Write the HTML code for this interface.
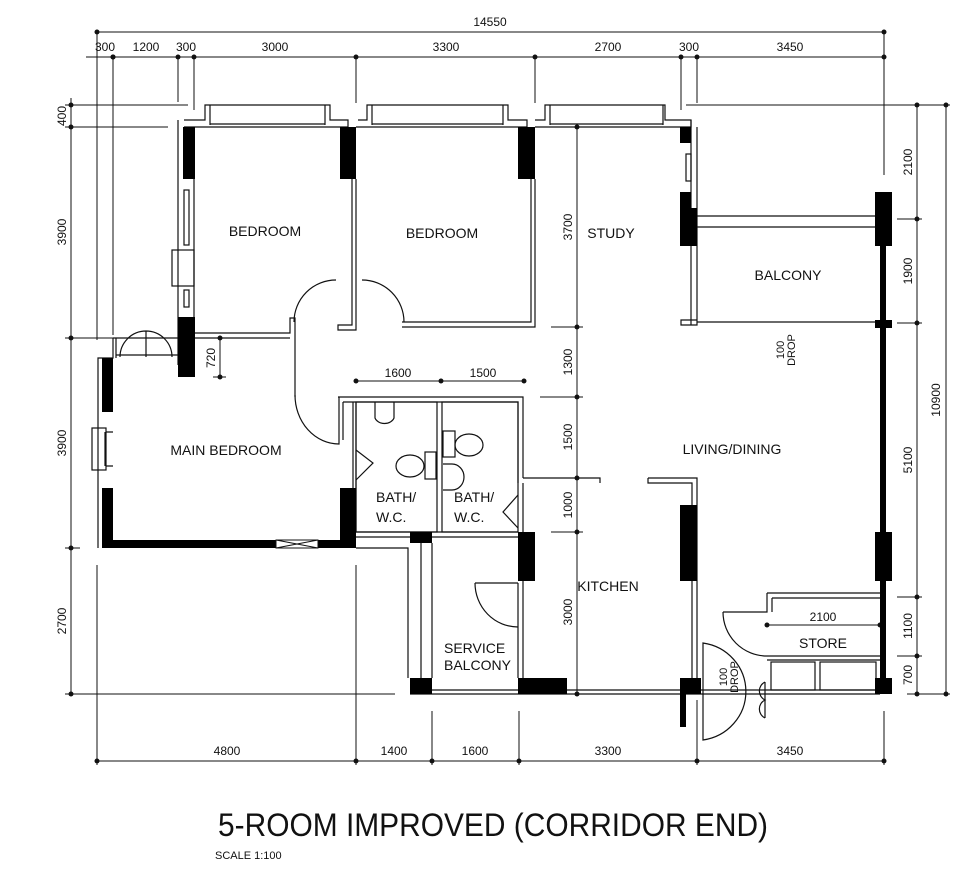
<!DOCTYPE html>
<html><head><meta charset="utf-8"><style>
html,body{margin:0;padding:0;background:#fff}
svg{display:block}
text{font-family:"Liberation Sans",sans-serif;fill:#111}
</style></head><body>
<svg width="966" height="893" viewBox="0 0 966 893" xmlns="http://www.w3.org/2000/svg">
<g stroke="#111" stroke-width="1" fill="none">
<!-- top dimensions -->
<line x1="97" y1="32" x2="884" y2="32"/>
<line x1="86" y1="57" x2="884" y2="57"/>
<line x1="97" y1="32" x2="97" y2="340"/>
<line x1="113" y1="57" x2="113" y2="335"/>
<line x1="178" y1="57" x2="178" y2="102"/>
<line x1="194" y1="57" x2="194" y2="110"/>
<line x1="356" y1="57" x2="356" y2="103"/>
<line x1="535" y1="57" x2="535" y2="103"/>
<line x1="681" y1="57" x2="681" y2="110"/>
<line x1="697" y1="57" x2="697" y2="103"/>
<line x1="884" y1="32" x2="884" y2="175"/>
<!-- left dims -->
<line x1="71" y1="98" x2="71" y2="694"/>
<line x1="65" y1="105" x2="188" y2="105"/>
<line x1="65" y1="127" x2="168" y2="127"/>
<line x1="65" y1="338" x2="115" y2="338"/>
<line x1="65" y1="548" x2="80" y2="548"/>
<line x1="65" y1="694" x2="395" y2="694"/>
<!-- right dims -->
<line x1="686" y1="105" x2="950" y2="105"/>
<line x1="917" y1="105" x2="917" y2="694"/>
<line x1="946" y1="105" x2="946" y2="694"/>
<line x1="897" y1="219" x2="922" y2="219"/>
<line x1="897" y1="323" x2="922" y2="323"/>
<line x1="897" y1="597" x2="922" y2="597"/>
<line x1="897" y1="656" x2="922" y2="656"/>
<line x1="907" y1="694" x2="950" y2="694"/>
<!-- bottom dims -->
<line x1="97" y1="761" x2="884" y2="761"/>
<line x1="97" y1="565" x2="97" y2="765"/>
<line x1="356" y1="565" x2="356" y2="765"/>
<line x1="432" y1="711" x2="432" y2="765"/>
<line x1="519" y1="711" x2="519" y2="765"/>
<line x1="697" y1="700" x2="697" y2="765"/>
<line x1="884" y1="711" x2="884" y2="765"/>
<!-- internal dims -->
<line x1="356" y1="381" x2="524" y2="381"/>
<line x1="220" y1="338" x2="220" y2="377"/><line x1="213" y1="377" x2="226" y2="377"/>
<line x1="577" y1="127" x2="577" y2="694"/>
<line x1="551" y1="327" x2="583" y2="327"/>
<line x1="540" y1="397" x2="583" y2="397"/>
<line x1="540" y1="478" x2="583" y2="478"/>
<line x1="551" y1="532" x2="583" y2="532"/>
<line x1="767" y1="625" x2="880" y2="625"/>
</g>
<g fill="#111">
<circle cx="97" cy="32" r="2.5"/><circle cx="884" cy="32" r="2.5"/>
<circle cx="113" cy="57" r="2.5"/><circle cx="113" cy="57" r="2.5"/><circle cx="178" cy="57" r="2.5"/><circle cx="194" cy="57" r="2.5"/><circle cx="356" cy="57" r="2.5"/><circle cx="535" cy="57" r="2.5"/><circle cx="681" cy="57" r="2.5"/><circle cx="697" cy="57" r="2.5"/><circle cx="884" cy="57" r="2.5"/>
<circle cx="71" cy="105" r="2.5"/><circle cx="71" cy="127" r="2.5"/><circle cx="71" cy="338" r="2.5"/><circle cx="71" cy="548" r="2.5"/><circle cx="71" cy="694" r="2.5"/>
<circle cx="917" cy="105" r="2.5"/><circle cx="946" cy="105" r="2.5"/><circle cx="917" cy="219" r="2.5"/><circle cx="917" cy="323" r="2.5"/><circle cx="917" cy="597" r="2.5"/><circle cx="917" cy="656" r="2.5"/><circle cx="917" cy="694" r="2.5"/><circle cx="946" cy="694" r="2.5"/>
<circle cx="97" cy="761" r="2.5"/><circle cx="356" cy="761" r="2.5"/><circle cx="432" cy="761" r="2.5"/><circle cx="519" cy="761" r="2.5"/><circle cx="697" cy="761" r="2.5"/><circle cx="884" cy="761" r="2.5"/>
<circle cx="356" cy="381" r="2.5"/><circle cx="441" cy="381" r="2.5"/><circle cx="524" cy="381" r="2.5"/>
<circle cx="220" cy="338" r="2.5"/><circle cx="220" cy="377" r="2.5"/>
<circle cx="577" cy="127" r="2.5"/><circle cx="577" cy="327" r="2.5"/><circle cx="577" cy="397" r="2.5"/><circle cx="577" cy="478" r="2.5"/><circle cx="577" cy="532" r="2.5"/><circle cx="577" cy="694" r="2.5"/>
<circle cx="767" cy="625" r="2.5"/><circle cx="880" cy="625" r="2.5"/>
</g>
<!-- walls outline -->
<g stroke="#111" stroke-width="1.2" fill="none">
<!-- top wall with windows -->
<path d="M184,120 H205 V105 H330 V120 H348 V127 H184"/>
<path d="M210,105 V125 M325,105 V125 M210,124 H325"/>
<path d="M358,120 H367 V105 H508 V120 H527 V127 H356"/>
<path d="M372,105 V125 M503,105 V125 M372,124 H503"/>
<path d="M535,120 H545 V105 H665 V120 H691 V127 H535"/>
<path d="M550,105 V125 M663,105 V125 M550,124 H663"/>
<path d="M691,120 V325 M697,127 V325 M681,320 H697 V325 H681 Z"/>
<rect x="686" y="154" width="5" height="27"/>
<!-- balcony rails -->
<path d="M697,216 H875 M697,227 H875 M697,322 H880"/>
<!-- bedroom 1 left wall -->
<path d="M178,120 V365 M194,127 V318"/>
<rect x="184" y="190" width="5" height="55"/><rect x="172" y="250" width="22" height="36"/><rect x="184" y="290" width="5" height="17"/>
<!-- bedroom1/2 partition -->
<path d="M352,179 V325 H338 V330 H356 V179"/>
<path d="M336,280 A42,42 0 0 0 294,322"/>
<path d="M362,280 A42,42 0 0 1 404,322"/>
<path d="M402,322 H531 V179 M402,327 H535 V179"/>
<!-- main bedroom top -->
<path d="M194,333 H290 V318 H295 V397 M194,338 H290"/>
<path d="M295,395 A44,49 0 0 0 339,444 V397"/>
<path d="M113,338 V358 H98 V548 M178,338 H113 M116,355 H178 M116,338 V358"/>
<path d="M120,357 A26,26 0 0 1 146,331 M172,357 A26,26 0 0 0 146,331 M146,331 V357"/>
<rect x="92" y="428" width="14" height="42"/><path d="M106,432 H113 M106,466 H113 M105,432 V466"/>
<!-- bathrooms -->
<path d="M338,397 H523 V478 M343,402 H518 V483"/>
<path d="M343,402 V440 M353,402 V540 M356,402 V532"/>
<rect x="356" y="402" width="81" height="130"/>
<rect x="442" y="402" width="76" height="130"/>
<path d="M356,532 H518 M356,537 H518"/>
<path d="M356,450 L373,463 L356,480 M518,495 L503,512 L518,528"/>
<path d="M375,402 V418 A10,8 0 0 0 394,418 V402"/>
<ellipse cx="410" cy="466" rx="14" ry="11"/><rect x="425" y="452" width="11" height="27"/>
<ellipse cx="469" cy="445" rx="14" ry="11"/><rect x="443" y="431" width="12" height="26"/>
<path d="M443,464 H452 A12,13 0 0 1 452,490 H443"/>
<!-- service balcony -->
<path d="M356,548 H408 V678 M421,543 V678 M432,543 V678"/>
<path d="M475,583 H518 M475,583 A43,44 0 0 0 518,627"/>
<path d="M518,583 V678 M523,483 V678"/>
<!-- kitchen -->
<path d="M523,478 H600 V483 M648,478 V483 H692 V678 M648,478 H697 V678"/>
<path d="M410,690 H880 M410,694 H880"/>
<!-- store -->
<path d="M767,593 H880 M772,598 H880 M767,593 V612 H723 M772,598 V612"/>
<path d="M723,612 A44,44 0 0 0 767,656 H880 M767,660 H880"/>
<rect x="771" y="662" width="44" height="28"/><rect x="820" y="662" width="56" height="28"/>
<path d="M703,643 A50,49 0 0 1 703,740 Z"/>
<path d="M765,682 A10,10 0 0 0 765,700 A10,10 0 0 0 765,718 M765,682 V718"/>
</g>
<!-- black walls -->
<g fill="#000">
<rect x="183" y="127" width="12" height="52"/>
<rect x="340" y="127" width="16" height="52"/>
<rect x="518" y="127" width="17" height="52"/>
<rect x="680" y="127" width="11" height="16"/>
<rect x="680" y="192" width="11" height="54"/><rect x="680" y="208" width="17" height="38"/>
<rect x="875" y="192" width="17" height="54"/>
<rect x="880" y="246" width="6" height="448"/>
<rect x="875" y="320" width="17" height="8"/>
<rect x="875" y="532" width="17" height="49"/>
<rect x="875" y="678" width="17" height="16"/>
<rect x="680" y="505" width="17" height="76"/>
<rect x="680" y="678" width="21" height="16"/><rect x="680" y="694" width="6" height="33"/>
<rect x="518" y="678" width="49" height="16"/>
<rect x="410" y="678" width="22" height="16"/>
<rect x="410" y="532" width="22" height="11"/>
<rect x="518" y="532" width="17" height="49"/>
<rect x="178" y="317" width="17" height="60"/>
<rect x="102" y="358" width="11" height="54"/>
<rect x="102" y="488" width="11" height="60"/>
<rect x="102" y="540" width="254" height="8"/>
<rect x="340" y="488" width="16" height="60"/>
</g>
<rect x="276" y="540" width="42" height="8" fill="#fff" stroke="#111"/>
<path d="M276,540 L318,548 M276,548 L318,540" stroke="#111"/>
<!-- text -->
<g font-size="12">
<text x="490" y="26" text-anchor="middle">14550</text>
<text x="105" y="51" text-anchor="middle">300</text>
<text x="146" y="51" text-anchor="middle">1200</text>
<text x="186" y="51" text-anchor="middle">300</text>
<text x="275" y="51" text-anchor="middle">3000</text>
<text x="446" y="51" text-anchor="middle">3300</text>
<text x="608" y="51" text-anchor="middle">2700</text>
<text x="689" y="51" text-anchor="middle">300</text>
<text x="790" y="51" text-anchor="middle">3450</text>
<text x="227" y="755" text-anchor="middle">4800</text>
<text x="394" y="755" text-anchor="middle">1400</text>
<text x="475" y="755" text-anchor="middle">1600</text>
<text x="608" y="755" text-anchor="middle">3300</text>
<text x="790" y="755" text-anchor="middle">3450</text>
<text x="398" y="377" text-anchor="middle">1600</text>
<text x="483" y="377" text-anchor="middle">1500</text>
<text x="823" y="621" text-anchor="middle">2100</text>
<text transform="translate(66,116) rotate(-90)" text-anchor="middle">400</text>
<text transform="translate(66,232) rotate(-90)" text-anchor="middle">3900</text>
<text transform="translate(66,443) rotate(-90)" text-anchor="middle">3900</text>
<text transform="translate(66,621) rotate(-90)" text-anchor="middle">2700</text>
<text transform="translate(215,358) rotate(-90)" text-anchor="middle">720</text>
<text transform="translate(572,227) rotate(-90)" text-anchor="middle">3700</text>
<text transform="translate(572,362) rotate(-90)" text-anchor="middle">1300</text>
<text transform="translate(572,437) rotate(-90)" text-anchor="middle">1500</text>
<text transform="translate(572,505) rotate(-90)" text-anchor="middle">1000</text>
<text transform="translate(572,612) rotate(-90)" text-anchor="middle">3000</text>
<text transform="translate(912,162) rotate(-90)" text-anchor="middle">2100</text>
<text transform="translate(912,271) rotate(-90)" text-anchor="middle">1900</text>
<text transform="translate(912,460) rotate(-90)" text-anchor="middle">5100</text>
<text transform="translate(912,626) rotate(-90)" text-anchor="middle">1100</text>
<text transform="translate(912,675) rotate(-90)" text-anchor="middle">700</text>
<text transform="translate(940,400) rotate(-90)" text-anchor="middle">10900</text>
<text transform="translate(784,350) rotate(-90)" text-anchor="middle" font-size="11">100</text>
<text transform="translate(795,350) rotate(-90)" text-anchor="middle" font-size="11">DROP</text>
<text transform="translate(727,677) rotate(-90)" text-anchor="middle" font-size="11">100</text>
<text transform="translate(738,677) rotate(-90)" text-anchor="middle" font-size="11">DROP</text>
</g>
<g font-size="14">
<text x="265" y="236" text-anchor="middle">BEDROOM</text>
<text x="442" y="238" text-anchor="middle">BEDROOM</text>
<text x="611" y="238" text-anchor="middle">STUDY</text>
<text x="788" y="280" text-anchor="middle">BALCONY</text>
<text x="226" y="455" text-anchor="middle">MAIN  BEDROOM</text>
<text x="732" y="454" text-anchor="middle">LIVING/DINING</text>
<text x="376" y="502">BATH/</text><text x="376" y="522">W.C.</text>
<text x="454" y="502">BATH/</text><text x="454" y="522">W.C.</text>
<text x="608" y="591" text-anchor="middle">KITCHEN</text>
<text x="444" y="653">SERVICE</text><text x="444" y="670">BALCONY</text>
<text x="823" y="648" text-anchor="middle">STORE</text>
</g>
<text x="218" y="836" font-size="32" textLength="550" lengthAdjust="spacingAndGlyphs" font-weight="normal">5-ROOM IMPROVED (CORRIDOR END)</text>
<text x="215" y="859" font-size="11">SCALE   1:100</text>
</svg>
</body></html>
